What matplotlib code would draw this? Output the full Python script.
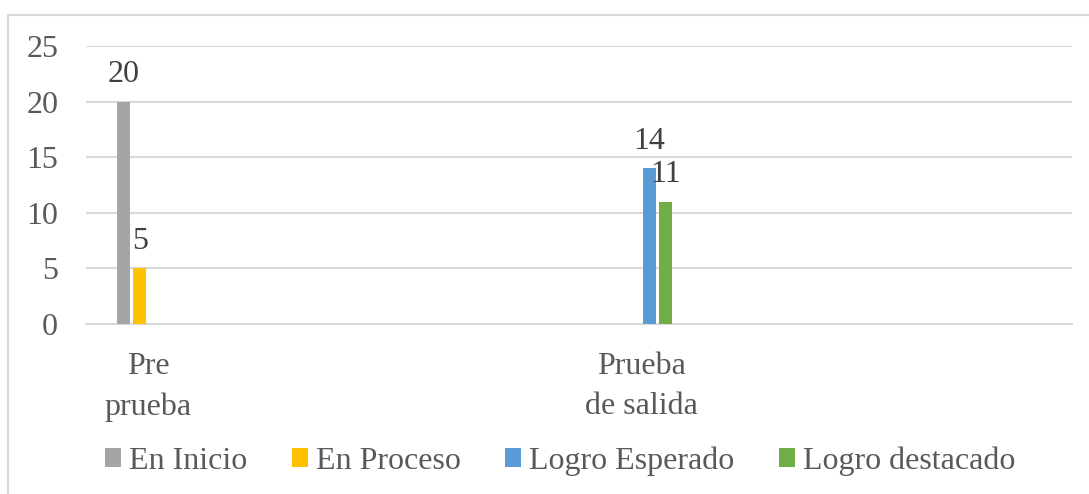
import matplotlib
matplotlib.use("Agg")
import matplotlib.pyplot as plt
from matplotlib.patches import Patch
from matplotlib.lines import Line2D
import numpy as np

categories = ["Pre\nprueba", "Prueba\nde salida"]
series_names = ["En Inicio", "En Proceso", "Logro Esperado", "Logro destacado"]
en_inicio = [20, 0]
en_proceso = [5, 0]
logro_esperado = [0, 14]
logro_destacado = [0, 11]
colors = ["#a5a5a5", "#ffc000", "#5b9bd5", "#70ad47"]
yticks = [0, 5, 10, 15, 20, 25]

plt.rcParams['font.family'] = ['Liberation Serif', 'DejaVu Serif']
FS = 23

fig = plt.figure(figsize=(10.89, 4.94), dpi=100)
ax = fig.add_axes([86/1089, 1-324/494, (1072-86)/1089, (324-46)/494])

series = [en_inicio, en_proceso, logro_esperado, logro_destacado]
x = np.arange(len(categories))
width = 13/493
step = 16.3/493
offsets = (np.arange(4) - 1.5) * step
for vals, name, c, off in zip(series, series_names, colors, offsets):
    bars = ax.bar(x + off, vals, width=width, color=c, label=name, zorder=3)
    for b, v in zip(bars, vals):
        if v != 0:
            ax.annotate(str(v), (b.get_x() + b.get_width()/2, v), xytext=(0, 9),
                        textcoords="offset points", ha="center", va="bottom",
                        fontsize=FS, color="#404040", zorder=4)

ax.set_xlim(-0.126, 1.874)
ax.set_ylim(0, 25)
ax.set_yticks(yticks)
ax.yaxis.grid(True, color="#d9d9d9", lw=1.5, zorder=0)
ax.set_axisbelow(True)
for s in ["top", "right", "left"]:
    ax.spines[s].set_visible(False)
ax.spines["bottom"].set_color("#d9d9d9")
ax.spines["bottom"].set_linewidth(1.5)
ax.tick_params(axis="y", length=0, pad=20, labelsize=FS, labelcolor="#595959")
ax.set_xticks(x)
ax.set_xticklabels(categories, linespacing=1.5)
ax.tick_params(axis="x", length=0, pad=20, labelsize=FS, labelcolor="#595959")

handles = [Patch(facecolor=c, edgecolor="none") for c in colors]
leg = fig.legend(handles, series_names, loc="center", bbox_to_anchor=(560/1089, 1-461/494),
                 ncol=4, frameon=False, fontsize=FS, labelcolor="#595959",
                 handlelength=0.5, handleheight=0.5, handletextpad=0.25, columnspacing=1.4)

fig.add_artist(Line2D([8/1089, 8/1089, 1.0], [0.0, 1-15/494, 1-15/494],
                      transform=fig.transFigure, color="#d9d9d9", lw=1.5))

fig.savefig("out.png", dpi=100)
